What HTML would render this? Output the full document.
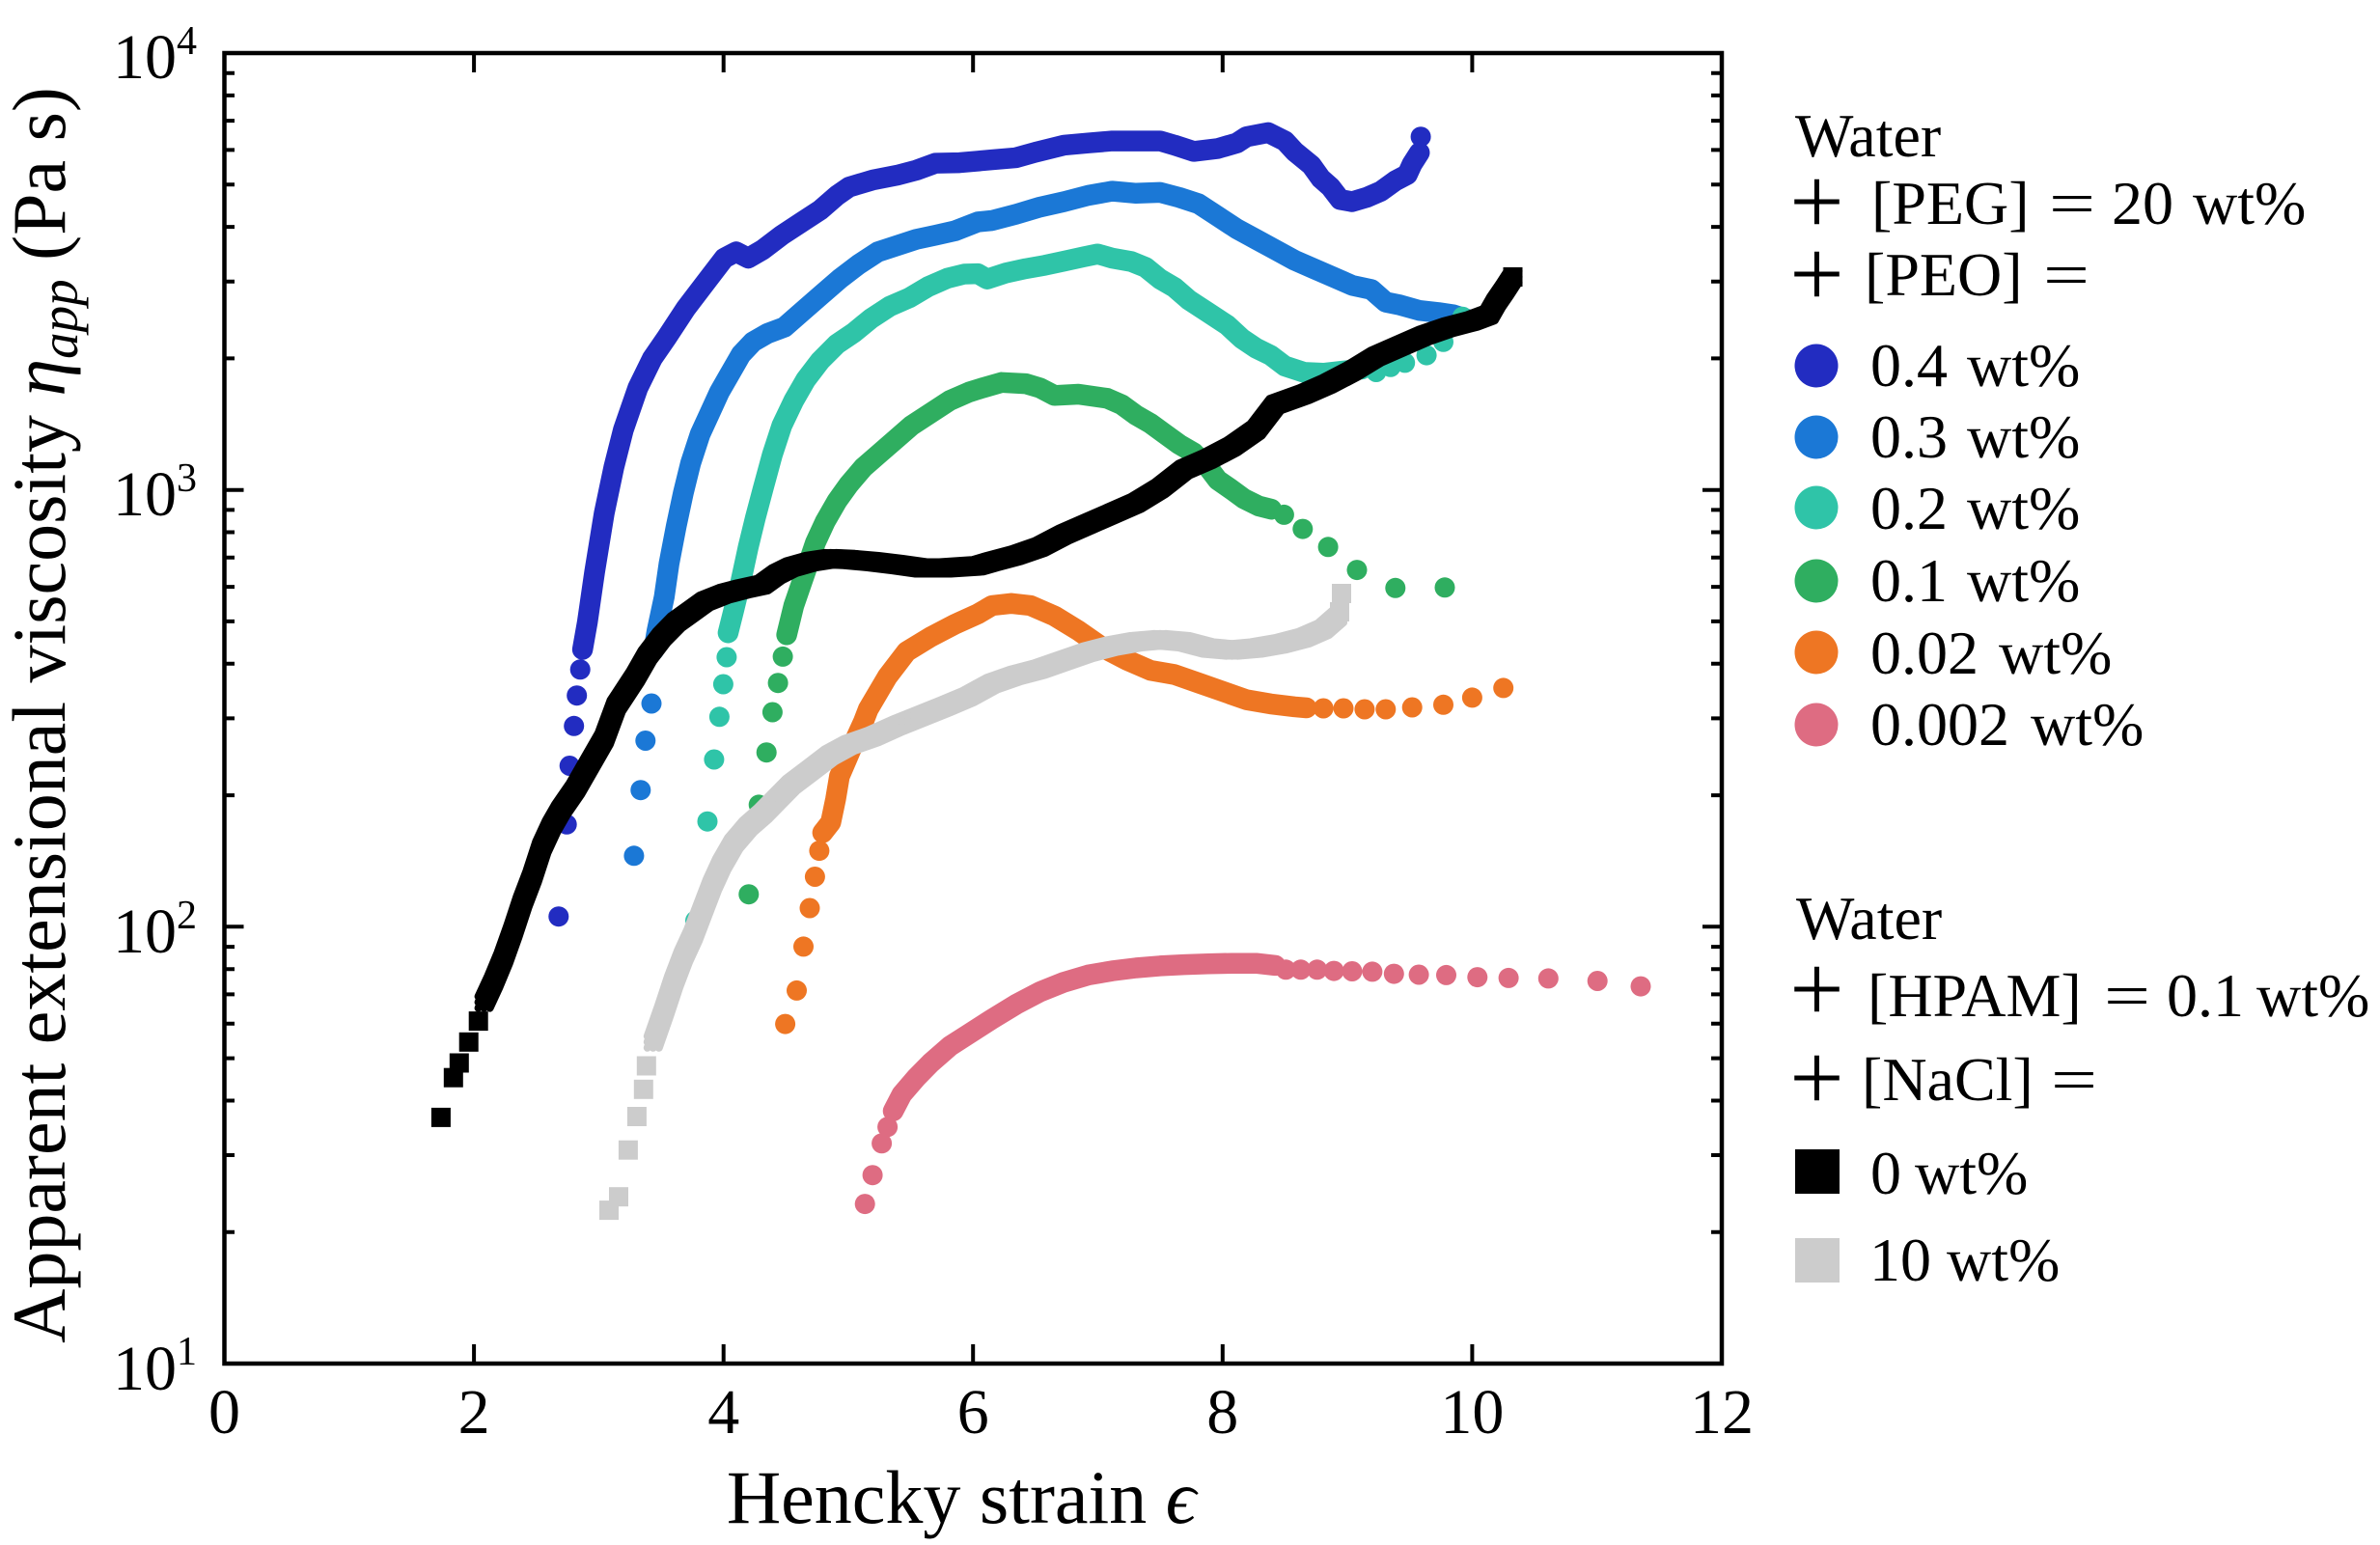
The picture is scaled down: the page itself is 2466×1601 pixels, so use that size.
<!DOCTYPE html>
<html>
<head>
<meta charset="utf-8">
<style>
html,body{margin:0;padding:0;background:#fff;}
svg{display:block;}
text{font-family:"Liberation Serif","DejaVu Serif",serif;fill:#000;}
</style>
</head>
<body>
<svg xmlns="http://www.w3.org/2000/svg" width="2466" height="1601" viewBox="0 0 2466 1601">
<rect x="0" y="0" width="2466" height="1601" fill="#fff"/>
<defs>
<polyline id="blk" points="501.6,1038.6 511.6,1016.9 521.5,993 531.5,964.9 541.5,934.5 551.4,908.5 561.3,878.1 571.3,856.4 581.2,839.1 596.2,817.4 611.1,791.4 626,765.4 638.5,731.6 658.4,701.2 670.8,679.5 685.7,660 700.6,644.8 715.6,634 730.5,623.2 750.4,615.3 770.3,610.1 790.2,605.8 805.1,595 820,587.6 840,582 859.9,578.9 879.8,579.8 904.6,582 929.5,585 954.4,588.5 979.3,588.5 1013.1,586.3 1027.9,582 1052.8,575.4 1077.6,566.8 1102.5,553.8 1127.4,542.9 1152.3,532.1 1177.1,521.2 1202,506 1226.9,486.5 1251.8,475.7 1276.6,462.7 1301.5,445.3 1321.4,419.3 1351.3,408.5 1376.1,397.6 1401,384.6 1425.9,369.4 1450.7,358.6 1475.6,347.7 1500.5,339.1 1525.4,332.6 1542.8,326.1 1550.2,313.1 1559.2,300 1567.6,287"/>
<polyline id="gry" points="676.8,1079.8 688.2,1047.2 698.2,1016.9 708.1,990.9 718.1,969.2 728,943.2 738,917.1 747.9,895.5 760.4,873.8 775.3,856.4 790.2,843.4 805.1,828.2 820,813.1 840,797.9 859.9,782.7 879.8,771.9 904.6,763.2 929.5,752 954.4,742 979.3,732 1003,722 1027.9,708.4 1052.8,699.7 1077.6,693.2 1102.5,684.5 1127.4,675.9 1152.3,669.4 1177.1,665 1202,662.8 1226.9,665 1251.8,671.5 1276.6,673.7 1301.5,671.5 1326.4,667.2 1351.3,660.7 1371.2,652 1386.1,639"/>
</defs>

<!-- 0.4 wt% dark blue -->
<g fill="#222cc1">
<polyline points="603.6,673 608.6,644.8 616.1,592.8 626,532.1 636,484.4 645.9,445.3 660.9,402 675.8,371.6 690.7,349.9 710.6,319.6 730.5,293.5 750.4,267.5 762.8,261 775.3,267.5 790.2,258.8 810.1,243.7 830,230.6 849.9,217.6 867.3,202.5 879.8,193.8 904.6,186.4 929.5,181.6 949.4,176.4 969.3,169.1 994.2,168.6 1013.1,166.9 1027.9,165.6 1052.8,163.4 1072.7,157.8 1102.5,150.4 1127.4,148.2 1152.3,146.1 1202,146.1 1216.9,150.4 1236.8,156.9 1261.7,153.9 1281.6,148.2 1291.6,141.7 1313.9,137.4 1331.4,146.1 1341.3,156.9 1358.7,171.2 1368.7,185.1 1378.6,193.8 1388.6,206.8 1401,209 1415.9,204.6 1430.9,198.1 1445.8,187.3 1458.2,180.8 1463.2,169.9 1470.7,158.2" fill="none" stroke="#222cc1" stroke-width="21.5" stroke-linejoin="round" stroke-linecap="round"/>
<circle cx="1472.1" cy="141.7" r="10.5"/>
<circle cx="578.8" cy="949.7" r="10.5"/>
<circle cx="587.2" cy="854.3" r="10.5"/>
<circle cx="590.2" cy="793.5" r="10.5"/>
<circle cx="594.7" cy="752.3" r="10.5"/>
<circle cx="597.7" cy="720.7" r="10.5"/>
<circle cx="601.2" cy="693.8" r="10.5"/>
</g>

<!-- 0.3 wt% medium blue -->
<g fill="#1b78d6">
<polyline points="677.3,673.9 680.8,653.5 688.2,618.8 693.2,584.1 700.7,545.1 708.1,510.4 715.6,480 725.5,449.7 735.5,428 745.4,406.3 755.4,388.9 767.8,367.3 780.2,354.2 795.2,345.6 812.6,339.1 830,323.9 849.9,306.5 869.8,289.2 889.7,274 909.6,261 929.5,254.5 949.4,248 969.3,243.7 989.2,239.3 1013.1,230 1027.9,228.5 1052.8,222 1077.6,214.6 1102.5,209 1127.4,202.5 1152.3,198.1 1177.1,200.3 1202,199.4 1221.9,204.6 1241.8,211.1 1261.7,224.1 1281.6,237.2 1301.5,248 1321.4,258.8 1341.3,269.7 1361.2,278.4 1381.1,287 1401,295.7 1420.9,300 1435.8,313.1 1450.7,316.1 1470.6,321.7 1490.5,323.9 1505.5,326.1 1525.4,332.6" fill="none" stroke="#1b78d6" stroke-width="21.5" stroke-linejoin="round" stroke-linecap="round"/>
<circle cx="656.9" cy="886.8" r="10.5"/>
<circle cx="663.8" cy="818.7" r="10.5"/>
<circle cx="668.8" cy="767.5" r="10.5"/>
<circle cx="675" cy="729" r="10.5"/>
</g>

<!-- 0.2 wt% teal -->
<g fill="#2fc4a8">
<polyline points="754.4,655.7 760.4,631.8 767.8,601.5 775.3,566.8 782.7,536.4 790.2,508.2 800.2,471.3 810.1,441 822.5,415 835,393.3 849.9,373.8 867.3,356.4 884.7,344.7 902.1,330.4 922,317.4 942,308.7 961.8,297 981.7,288.3 999.1,284 1013.1,283.6 1022.9,289.2 1042.8,282.7 1062.7,278.4 1082.6,274.9 1102.5,270.6 1122.4,266.2 1137.3,263.2 1152.3,267.5 1172.1,271 1187.1,277.1 1202,289.2 1216.9,297.9 1231.9,310.9 1251.8,323.9 1271.6,336.9 1286.6,350.8 1301.5,360.8 1316.4,368.1 1331.4,379.4 1351.3,385.9 1371.2,386.8 1391.1,384.6 1411,382.4" fill="none" stroke="#2fc4a8" stroke-width="21.5" stroke-linejoin="round" stroke-linecap="round"/>
<circle cx="1425.9" cy="385.5" r="10.5"/>
<circle cx="1440.8" cy="380.3" r="10.5"/>
<circle cx="1455.7" cy="375.9" r="10.5"/>
<circle cx="1478.1" cy="368.1" r="10.5"/>
<circle cx="1495.5" cy="354.3" r="10.5"/>
<circle cx="1515.4" cy="328.2" r="10.5"/>
<circle cx="720.5" cy="954" r="10.5"/>
<circle cx="733" cy="851.2" r="10.5"/>
<circle cx="739.9" cy="787" r="10.5"/>
<circle cx="745.4" cy="742.8" r="10.5"/>
<circle cx="749.4" cy="709" r="10.5"/>
<circle cx="752.9" cy="681" r="10.5"/>
</g>

<!-- 0.1 wt% green -->
<g fill="#2fae60">
<polyline points="815.1,657.8 822.5,627.5 830,605.8 837.5,584.1 844.9,562.4 854.9,540.7 867.3,519.1 879.8,501.7 894.6,484.4 909.6,471.3 929.5,454 944.4,441 964.3,428 984.2,415 1004.1,406.3 1017.9,402 1037.8,396.3 1062.7,397.6 1077.6,402 1092.6,409.8 1117.4,408.5 1147.3,412.8 1162.2,419.3 1177.1,430.2 1192.1,438.8 1207,449.7 1221.9,460.5 1236.8,469.2 1251.8,484.4 1261.7,497.4 1274.1,506 1289.1,516.9 1304,524.3 1317.4,527.7" fill="none" stroke="#2fae60" stroke-width="21.5" stroke-linejoin="round" stroke-linecap="round"/>
<circle cx="1330.4" cy="533.4" r="10.5"/>
<circle cx="1349.8" cy="548.1" r="10.5"/>
<circle cx="1376.1" cy="566.8" r="10.5"/>
<circle cx="1406" cy="590.6" r="10.5"/>
<circle cx="1445.8" cy="609.3" r="10.5"/>
<circle cx="1497" cy="608.8" r="10.5"/>
<circle cx="775.8" cy="926.7" r="10.5"/>
<circle cx="786.2" cy="833.9" r="10.5"/>
<circle cx="794.2" cy="779.7" r="10.5"/>
<circle cx="800.4" cy="738" r="10.5"/>
<circle cx="806.1" cy="707.7" r="10.5"/>
<circle cx="811.1" cy="680.4" r="10.5"/>
</g>

<!-- 0.02 wt% orange -->
<g fill="#ee7623">
<polyline points="852.4,862.9 860.8,852.1 865.8,828.2 869.8,804.4 877.3,787 884.7,769.7 894.6,748 899.6,735 919.5,701.2 939.4,675.2 964.3,660 989.2,647 1013.1,636.2 1027.9,627.5 1047.8,625.3 1067.7,627.5 1092.6,638.3 1117.4,653.5 1142.3,670.9 1167.2,683.9 1192.1,694.7 1216.9,699 1241.8,707.7 1266.7,716.4 1291.6,725.1 1316.4,729.4 1341.3,732.4 1353.7,733.5" fill="none" stroke="#ee7623" stroke-width="21.5" stroke-linejoin="round" stroke-linecap="round"/>
<circle cx="1371.2" cy="734" r="10.5"/>
<circle cx="1392" cy="734" r="10.5"/>
<circle cx="1413.9" cy="735" r="10.5"/>
<circle cx="1435.8" cy="735" r="10.5"/>
<circle cx="1463.2" cy="733" r="10.5"/>
<circle cx="1495.5" cy="730.3" r="10.5"/>
<circle cx="1525.4" cy="722.9" r="10.5"/>
<circle cx="1557.7" cy="712.9" r="10.5"/>
<circle cx="813.6" cy="1061.1" r="10.5"/>
<circle cx="825.5" cy="1026.4" r="10.5"/>
<circle cx="832.5" cy="980.9" r="10.5"/>
<circle cx="839" cy="941" r="10.5"/>
<circle cx="844.4" cy="908.5" r="10.5"/>
<circle cx="848.9" cy="881.6" r="10.5"/>
</g>

<!-- 0.002 wt% pink -->
<g fill="#de6c82">
<polyline points="925.5,1151.3 934.5,1134 949.4,1116.7 964.3,1101.5 984.2,1084.1 1003,1072 1027.9,1056 1052.8,1040.8 1077.6,1027.7 1102.5,1017.8 1127.4,1010.4 1152.3,1006.1 1177.1,1003 1202,1000.9 1226.9,999.6 1251.8,998.7 1276.6,998.2 1301.5,998.2 1321.4,1000.4" fill="none" stroke="#de6c82" stroke-width="21.5" stroke-linejoin="round" stroke-linecap="round"/>
<circle cx="896.2" cy="1247.6" r="10.5"/>
<circle cx="904.1" cy="1217.7" r="10.5"/>
<circle cx="913.6" cy="1184.8" r="10.5"/>
<circle cx="919.6" cy="1167.8" r="10.5"/>
<circle cx="1332.3" cy="1004.8" r="10.5"/>
<circle cx="1347.8" cy="1004.8" r="10.5"/>
<circle cx="1364.7" cy="1004.8" r="10.5"/>
<circle cx="1382.1" cy="1006.1" r="10.5"/>
<circle cx="1401" cy="1006.5" r="10.5"/>
<circle cx="1421.9" cy="1006.9" r="10.5"/>
<circle cx="1444.3" cy="1009.1" r="10.5"/>
<circle cx="1470.1" cy="1010" r="10.5"/>
<circle cx="1498.5" cy="1010.4" r="10.5"/>
<circle cx="1530.8" cy="1012.6" r="10.5"/>
<circle cx="1563.1" cy="1013.4" r="10.5"/>
<circle cx="1604.3" cy="1013.9" r="10.5"/>
<circle cx="1655.2" cy="1016.5" r="10.5"/>
<circle cx="1700" cy="1022.1" r="10.5"/>
</g>

<!-- NaCl 0 wt% black squares -->
<g fill="none" stroke="#000" stroke-width="8" stroke-linejoin="round" stroke-linecap="round">
<use href="#blk" x="-6" y="-6"/><use href="#blk" x="0" y="-6"/><use href="#blk" x="6" y="-6"/>
<use href="#blk" x="-6" y="0"/><use href="#blk" x="0" y="0"/><use href="#blk" x="6" y="0"/>
<use href="#blk" x="-6" y="6"/><use href="#blk" x="0" y="6"/><use href="#blk" x="6" y="6"/>
</g>
<g fill="#000">
<rect x="446.9" y="1147.9" width="20" height="20"/>
<rect x="459.8" y="1106.7" width="20" height="20"/>
<rect x="465.8" y="1091.5" width="20" height="20"/>
<rect x="475.7" y="1069.8" width="20" height="20"/>
<rect x="485.7" y="1048.1" width="20" height="20"/>
<rect x="1557.5" y="277" width="20" height="20"/>
</g>

<!-- NaCl 10 wt% gray squares -->
<g fill="none" stroke="#cccccc" stroke-width="8" stroke-linejoin="round" stroke-linecap="round">
<use href="#gry" x="-6" y="-6"/><use href="#gry" x="0" y="-6"/><use href="#gry" x="6" y="-6"/>
<use href="#gry" x="-6" y="0"/><use href="#gry" x="0" y="0"/><use href="#gry" x="6" y="0"/>
<use href="#gry" x="-6" y="6"/><use href="#gry" x="0" y="6"/><use href="#gry" x="6" y="6"/>
</g>
<g fill="#cccccc">
<rect x="621" y="1244.1" width="20" height="20"/>
<rect x="631" y="1230.2" width="20" height="20"/>
<rect x="640.9" y="1181.7" width="20" height="20"/>
<rect x="649.9" y="1147" width="20" height="20"/>
<rect x="656.8" y="1118.8" width="20" height="20"/>
<rect x="659.8" y="1094.5" width="20" height="20"/>
<rect x="1380" y="605" width="20" height="20"/>
<rect x="1378" y="624" width="20" height="20"/>
</g>

<!-- axes frame -->
<rect x="232.5" y="55" width="1551.5" height="1358" fill="none" stroke="#000" stroke-width="4.5"/>
<g stroke="#000" stroke-width="4">
<!-- bottom & top ticks -->
<path d="M491.1 1413V1393 M749.7 1413V1393 M1008.2 1413V1393 M1266.8 1413V1393 M1525.4 1413V1393"/>
<path d="M491.1 55V75 M749.7 55V75 M1008.2 55V75 M1266.8 55V75 M1525.4 55V75"/>
<!-- left major -->
<path d="M232.5 507.7H252.5 M232.5 960.3H252.5"/>
<!-- right major -->
<path d="M1784 507.7H1764 M1784 960.3H1764"/>
<!-- left minor -->
<path d="M232.5 371.4H243 M232.5 291.7H243 M232.5 235.1H243 M232.5 191.3H243 M232.5 155.4H243 M232.5 125.1H243 M232.5 98.9H243 M232.5 75.7H243
M232.5 824.1H243 M232.5 744.4H243 M232.5 687.8H243 M232.5 643.9H243 M232.5 608.1H243 M232.5 577.8H243 M232.5 551.5H243 M232.5 528.4H243
M232.5 1276.7H243 M232.5 1197H243 M232.5 1140.5H243 M232.5 1096.6H243 M232.5 1060.8H243 M232.5 1030.4H243 M232.5 1004.2H243 M232.5 981.1H243"/>
<!-- right minor -->
<path d="M1784 371.4H1773 M1784 291.7H1773 M1784 235.1H1773 M1784 191.3H1773 M1784 155.4H1773 M1784 125.1H1773 M1784 98.9H1773 M1784 75.7H1773
M1784 824.1H1773 M1784 744.4H1773 M1784 687.8H1773 M1784 643.9H1773 M1784 608.1H1773 M1784 577.8H1773 M1784 551.5H1773 M1784 528.4H1773
M1784 1276.7H1773 M1784 1197H1773 M1784 1140.5H1773 M1784 1096.6H1773 M1784 1060.8H1773 M1784 1030.4H1773 M1784 1004.2H1773 M1784 981.1H1773"/>
</g>

<!-- x tick labels -->
<g font-size="66" text-anchor="middle">
<text x="232.5" y="1485">0</text>
<text x="491.1" y="1485">2</text>
<text x="749.7" y="1485">4</text>
<text x="1008.2" y="1485">6</text>
<text x="1266.8" y="1485">8</text>
<text x="1525.4" y="1485">10</text>
<text x="1784" y="1485">12</text>
</g>

<!-- y tick labels -->
<g font-size="66" text-anchor="end">
<text x="183" y="81">10</text>
<text x="183" y="534">10</text>
<text x="183" y="987">10</text>
<text x="183" y="1440">10</text>
</g>
<g font-size="42">
<text x="183" y="56">4</text>
<text x="183" y="509">3</text>
<text x="183" y="962">2</text>
<text x="183" y="1414">1</text>
</g>

<!-- axis labels -->
<text x="996" y="1578" font-size="78" text-anchor="middle">Hencky strain <tspan font-style="italic">ϵ</tspan></text>
<text transform="translate(67,741) rotate(-90)" font-size="78" text-anchor="middle">Apparent extensional viscosity <tspan font-style="italic">η</tspan><tspan font-style="italic" font-size="55" dy="13">app</tspan><tspan dy="-13"> (Pa s)</tspan></text>

<!-- legend 1 -->
<g font-size="64">
<text x="1860" y="162">Water</text>
<text x="1882.5" y="242" font-size="100" text-anchor="middle">+</text>
<text x="1939" y="232">[PEG]</text>
<text x="2123" y="232" textLength="48" lengthAdjust="spacingAndGlyphs">=</text>
<text x="2188" y="232">20</text>
<text x="2272" y="232">wt%</text>
<text x="1882.5" y="317" font-size="100" text-anchor="middle">+</text>
<text x="1932" y="306">[PEO]</text>
<text x="2117" y="306" textLength="48" lengthAdjust="spacingAndGlyphs">=</text>

<circle cx="1882" cy="379" r="22.5" fill="#222cc1"/>
<text x="1938" y="400">0.4</text><text x="2038" y="400">wt%</text>
<circle cx="1882" cy="453" r="22.5" fill="#1b78d6"/>
<text x="1938" y="474">0.3</text><text x="2038" y="474">wt%</text>
<circle cx="1882" cy="526" r="22.5" fill="#2fc4a8"/>
<text x="1938" y="548">0.2</text><text x="2038" y="548">wt%</text>
<circle cx="1882" cy="602" r="22.5" fill="#2fae60"/>
<text x="1938" y="623">0.1</text><text x="2038" y="623">wt%</text>
<circle cx="1882" cy="676" r="22.5" fill="#ee7623"/>
<text x="1938" y="698">0.02</text><text x="2071" y="698">wt%</text>
<circle cx="1882" cy="751" r="22.5" fill="#de6c82"/>
<text x="1938" y="772">0.002</text><text x="2104" y="772">wt%</text>

<!-- legend 2 -->
<text x="1861" y="973">Water</text>
<text x="1882.5" y="1058" font-size="100" text-anchor="middle">+</text>
<text x="1935" y="1053">[HPAM]</text>
<text x="2180" y="1053" textLength="48" lengthAdjust="spacingAndGlyphs">=</text>
<text x="2245" y="1053">0.1</text>
<text x="2338" y="1053">wt%</text>
<text x="1882.5" y="1150" font-size="100" text-anchor="middle">+</text>
<text x="1929" y="1140">[NaCl]</text>
<text x="2125" y="1140" textLength="48" lengthAdjust="spacingAndGlyphs">=</text>
<rect x="1860" y="1191" width="46" height="46" fill="#000"/>
<text x="1938" y="1237">0</text><text x="1984" y="1237">wt%</text>
<rect x="1860" y="1283" width="46" height="46" fill="#cccccc"/>
<text x="1937" y="1327">10</text><text x="2017" y="1327">wt%</text>
</g>
</svg>
</body>
</html>
